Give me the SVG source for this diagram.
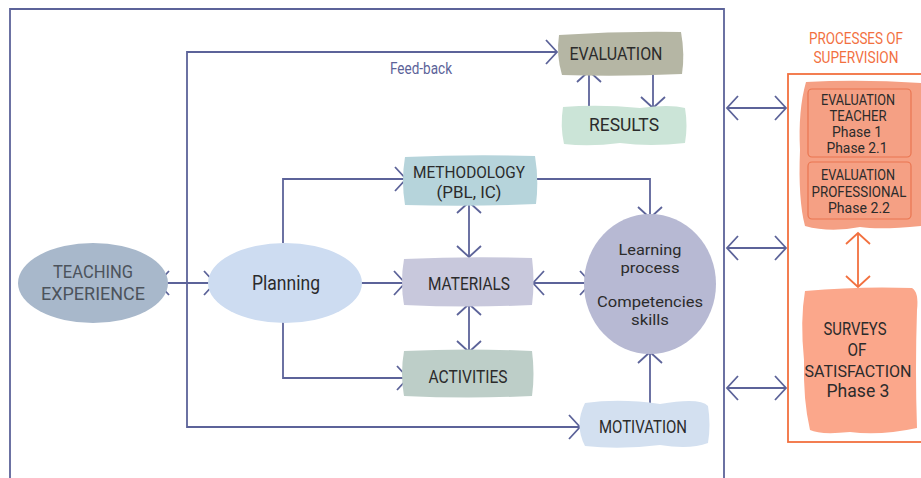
<svg xmlns="http://www.w3.org/2000/svg" width="921" height="478" viewBox="0 0 921 478">
<style>
text{font-family:Roboto,"Liberation Sans",sans-serif;text-anchor:middle;fill:#2b2b2b;}
.ln{fill:none;stroke:#5c6399;stroke-width:1.8;}
.or{fill:none;stroke:#f2703f;stroke-width:1.8;}
.m{font-size:18px;}
.d{font-size:17px;}
.l{font-size:15px;}
.s{font-size:14px;}
.t{font-size:16px;fill:#f2703f;}
</style>
<defs>
<marker id="a" viewBox="0 0 12 24" refX="11" refY="12" markerWidth="12" markerHeight="24" markerUnits="userSpaceOnUse" orient="auto-start-reverse" overflow="visible">
<path d="M0,0 L11,12 L0,24" fill="none" stroke="#5c6399" stroke-width="1.8"/>
</marker>
<marker id="o" viewBox="0 0 12 24" refX="11" refY="12" markerWidth="12" markerHeight="24" markerUnits="userSpaceOnUse" orient="auto-start-reverse" overflow="visible">
<path d="M0,0 L11,12 L0,24" fill="none" stroke="#f2703f" stroke-width="1.8"/>
</marker>
</defs>

<g id="frame">
<path class="ln" d="M10,478 V9 H724 V478" stroke-width="2"/>
<rect x="788" y="74" width="140" height="368" class="or"/>
</g>

<g id="connectors">
<path class="ln" d="M187,283 V52 H557" marker-end="url(#a)"/>
<path class="ln" d="M187,283 V427 H580" marker-end="url(#a)"/>
<path class="ln" d="M158,283 H215" marker-start="url(#a)" marker-end="url(#a)"/>
<path class="ln" d="M283,243 V179 H406" marker-end="url(#a)"/>
<path class="ln" d="M283,320 V378 H408" marker-end="url(#a)"/>
<path class="ln" d="M357,283 H405" marker-end="url(#a)"/>
<path class="ln" d="M469,202 V257" marker-start="url(#a)" marker-end="url(#a)"/>
<path class="ln" d="M469,304 V352" marker-start="url(#a)" marker-end="url(#a)"/>
<path class="ln" d="M533,283 H591" marker-start="url(#a)" marker-end="url(#a)"/>
<path class="ln" d="M537,179 H650 V218" marker-end="url(#a)"/>
<path class="ln" d="M650,407 V352" marker-end="url(#a)"/>
<path class="ln" d="M589,108 V71" marker-end="url(#a)"/>
<path class="ln" d="M653,71 V108" marker-end="url(#a)"/>
<path class="ln" d="M727,108 H786" marker-start="url(#a)" marker-end="url(#a)"/>
<path class="ln" d="M727,248 H786" marker-start="url(#a)" marker-end="url(#a)"/>
<path class="ln" d="M727,388 H786" marker-start="url(#a)" marker-end="url(#a)"/>
<path class="or" d="M858,233 V287" marker-start="url(#o)" marker-end="url(#o)"/>
</g>

<text x="421" y="74" style="font-size:17px;fill:#5c6399" textLength="62" lengthAdjust="spacingAndGlyphs">Feed-back</text>

<g id="teaching">
<ellipse cx="93" cy="283" rx="75" ry="40" fill="#a8b8cb"/>
<text x="93" y="278" class="m" style="fill:#4c535c" textLength="80" lengthAdjust="spacingAndGlyphs">TEACHING</text>
<text x="93" y="300" class="m" style="fill:#4c535c" textLength="104" lengthAdjust="spacingAndGlyphs">EXPERIENCE</text>
</g>

<g id="planning">
<ellipse cx="285" cy="283" rx="77" ry="40" fill="#cddcf1"/>
<text x="286" y="290" style="font-size:20px" textLength="68" lengthAdjust="spacingAndGlyphs">Planning</text>
</g>

<g id="methodology">
<path d="M405,157 Q470,154 535,156 Q539,180 536,204 Q470,207 405,205 Q401,181 405,157 Z" fill="#b6d4db"/>
<text x="469" y="178" class="d" textLength="112" lengthAdjust="spacingAndGlyphs">METHODOLOGY</text>
<text x="469" y="198" class="d" textLength="65" lengthAdjust="spacingAndGlyphs">(PBL, IC)</text>
</g>

<g id="materials">
<path d="M404,259 Q468,256 532,258 Q535,282 532,305 Q468,308 404,305 Q400,282 404,259 Z" fill="#c8c8dc"/>
<text x="469" y="290" class="m" textLength="82" lengthAdjust="spacingAndGlyphs">MATERIALS</text>
</g>

<g id="activities">
<path d="M404,351 Q468,348 532,351 Q535,374 532,396 Q468,399 404,396 Q400,374 404,351 Z" fill="#bdcec8"/>
<text x="468" y="383" class="m" textLength="79" lengthAdjust="spacingAndGlyphs">ACTIVITIES</text>
</g>

<g id="learning">
<ellipse cx="650" cy="284" rx="66" ry="70" fill="#b7b9d3"/>
<text x="650" y="255" class="l" textLength="63" lengthAdjust="spacingAndGlyphs">Learning</text>
<text x="650" y="273" class="l" textLength="59" lengthAdjust="spacingAndGlyphs">process</text>
<text x="650" y="307" class="l" textLength="106" lengthAdjust="spacingAndGlyphs">Competencies</text>
<text x="650" y="325" class="l" textLength="38" lengthAdjust="spacingAndGlyphs">skills</text>
</g>

<g id="motivation">
<path d="M585,403 Q620,398 660,404 Q700,397 708,406 Q711,425 708,443 Q690,450 660,445 Q620,450 585,446 Q574,425 585,403 Z" fill="#d3e0f0"/>
<text x="643" y="433" class="m" textLength="88" lengthAdjust="spacingAndGlyphs">MOTIVATION</text>
</g>

<g id="evaluation">
<path d="M559,35 Q620,31 681,32 Q685,54 682,74 Q620,77 562,75 Q556,55 559,35 Z" fill="#b5b6a4"/>
<text x="616" y="60" class="m" textLength="93" lengthAdjust="spacingAndGlyphs">EVALUATION</text>
</g>

<g id="results">
<path d="M563,107 Q600,104 640,108 Q670,104 685,108 Q688,126 685,143 Q650,147 620,143 Q590,147 564,144 Q560,126 563,107 Z" fill="#cbe4d7"/>
<text x="624" y="131" class="m" textLength="70" lengthAdjust="spacingAndGlyphs">RESULTS</text>
</g>

<g id="supervision-title">
<text x="856" y="44" class="t" textLength="94" lengthAdjust="spacingAndGlyphs">PROCESSES OF</text>
<text x="856" y="63" class="t" textLength="85" lengthAdjust="spacingAndGlyphs">SUPERVISION</text>
</g>

<g id="evaluations">
<path d="M806,82 Q860,79 921,83 L921,226 Q880,230 860,227 Q830,233 805,226 Q798,200 800,150 Q798,110 806,82 Z" fill="#f5a084"/>
<rect x="808" y="89" width="103" height="68" rx="4" fill="none" stroke="#ea7550" stroke-width="1.2"/>
<rect x="808" y="162" width="103" height="57" rx="4" fill="none" stroke="#ea7550" stroke-width="1.2"/>
<text x="858" y="105" class="s" textLength="74" lengthAdjust="spacingAndGlyphs">EVALUATION</text>
<text x="858" y="121" class="s" textLength="57" lengthAdjust="spacingAndGlyphs">TEACHER</text>
<text x="857" y="137" class="s" textLength="50" lengthAdjust="spacingAndGlyphs">Phase 1</text>
<text x="857" y="153" class="s" textLength="61" lengthAdjust="spacingAndGlyphs">Phase 2.1</text>
<text x="858" y="180" class="s" textLength="74" lengthAdjust="spacingAndGlyphs">EVALUATION</text>
<text x="859" y="197" class="s" textLength="95" lengthAdjust="spacingAndGlyphs">PROFESSIONAL</text>
<text x="859" y="213" class="s" textLength="62" lengthAdjust="spacingAndGlyphs">Phase 2.2</text>
</g>

<g id="surveys">
<path d="M805,291 Q860,286 912,288 Q919,292 917,310 Q915,370 917,428 Q880,436 850,432 Q820,435 810,430 Q803,400 804,360 Q800,320 805,291 Z" fill="#fba78b"/>
<text x="855" y="335" class="m" textLength="63" lengthAdjust="spacingAndGlyphs">SURVEYS</text>
<text x="857" y="356" class="m" textLength="19" lengthAdjust="spacingAndGlyphs">OF</text>
<text x="858" y="377" style="font-size:16px" textLength="107" lengthAdjust="spacingAndGlyphs">SATISFACTION</text>
<text x="858" y="397" class="m" textLength="63" lengthAdjust="spacingAndGlyphs">Phase 3</text>
</g>
</svg>
